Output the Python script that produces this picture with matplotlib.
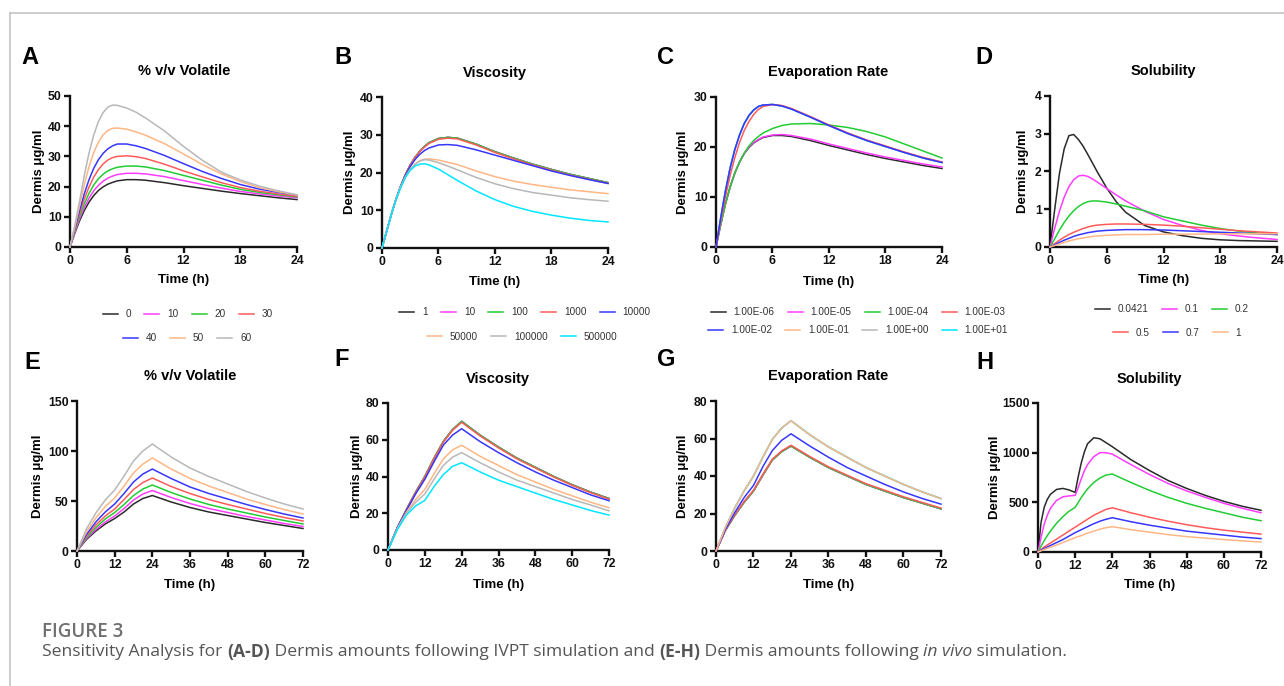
import matplotlib
matplotlib.use("Agg")
import matplotlib.pyplot as plt
from matplotlib.lines import Line2D

plt.rcParams['font.family'] = ['Liberation Sans', 'DejaVu Sans']

W, H = 1284, 686

# series colours (same order in every panel)
black = '#2a2a2a'
magenta = '#ff3cff'
green = '#22cc33'
red = '#ff5a5a'
blue = '#3636ff'
orange = '#ffb685'
gray = '#b8b8b8'
cyan = '#00e6ff'
colors8 = [black, magenta, green, red, blue, orange, gray, cyan]

# ---- IVPT simulation (A-D), 0-24 h ----
t_ivpt = [0, 0.5, 1, 1.5, 2, 2.5, 3, 3.5, 4, 4.5, 5, 6, 7, 8, 10, 12, 14, 16, 18, 20, 22, 24]

vol_labels = ['0', '10', '20', '30', '40', '50', '60']
vol_0 = [0, 4.5, 8.6, 12, 14.8, 17, 18.7, 19.9, 20.8, 21.4, 21.9, 22.3, 22.3, 22.1, 21.3, 20.3, 19.4, 18.5, 17.7, 17.0, 16.3, 15.7]
vol_10 = [0, 4.8, 9.3, 13, 16.1, 18.6, 20.4, 21.8, 22.8, 23.5, 24.0, 24.4, 24.4, 24.2, 23.3, 22.0, 20.7, 19.5, 18.4, 17.6, 16.9, 16.3]
vol_20 = [0, 5.2, 10, 14.2, 17.7, 20.5, 22.6, 24.1, 25.2, 25.9, 26.4, 26.8, 26.8, 26.5, 25.3, 23.7, 22.1, 20.5, 19.1, 18.1, 17.3, 16.6]
vol_30 = [0, 5.6, 11, 15.8, 19.8, 23.1, 25.6, 27.5, 28.8, 29.6, 30.0, 30.2, 29.9, 29.3, 27.4, 25.2, 23.2, 21.3, 19.7, 18.5, 17.6, 16.8]
vol_40 = [0, 6, 12, 17.5, 22.2, 26, 28.9, 31, 32.5, 33.5, 34.1, 34.1, 33.5, 32.6, 30.3, 27.6, 25.0, 22.7, 20.7, 19.2, 18.1, 17.2]
vol_50 = [0, 6.5, 13.5, 20.5, 26.5, 31.2, 34.7, 37.1, 38.6, 39.3, 39.4, 39.0, 38.1, 37.0, 34.2, 30.8, 27.3, 24.2, 21.7, 19.7, 18.3, 17.2]
vol_60 = [0, 7, 15, 23.5, 31, 37, 41.5, 44.5, 46.3, 47, 46.9, 46, 44.6, 42.7, 38.4, 33.3, 28.7, 24.8, 22.2, 20.2, 18.6, 17.3]

visc_labels = ['1', '10', '100', '1000', '10000', '50000', '100000', '500000']
visc_low = [0, 4.5, 9, 13, 16.5, 19.5, 22, 24, 25.6, 26.9, 27.9, 29.0, 29.3, 29.1, 27.5, 25.5, 23.8, 22.2, 20.8, 19.5, 18.4, 17.3]
visc_1000 = [0, 4.5, 9, 13, 16.5, 19.5, 21.9, 23.9, 25.5, 26.7, 27.7, 28.8, 29.1, 28.9, 27.3, 25.3, 23.6, 22.0, 20.6, 19.3, 18.2, 17.1]
visc_10000 = [0, 4.5, 9, 13, 16.4, 19.3, 21.6, 23.4, 24.8, 25.8, 26.5, 27.3, 27.4, 27.2, 26.0, 24.6, 23.2, 21.8, 20.4, 19.2, 18.1, 17.1]
visc_50000 = [0, 4.5, 9, 13, 16.3, 18.9, 20.8, 22.2, 23.1, 23.5, 23.6, 23.3, 22.7, 22.1, 20.4, 18.9, 17.7, 16.8, 16.1, 15.4, 14.9, 14.4]
visc_100000 = [0, 4.5, 9, 13, 16.3, 18.9, 20.8, 22.2, 23.0, 23.4, 23.3, 22.6, 21.7, 20.7, 18.7, 17.0, 15.7, 14.7, 14.0, 13.3, 12.8, 12.4]
visc_500000 = [0, 4.5, 9, 12.9, 16.1, 18.8, 20.6, 21.7, 22.2, 22.3, 22.0, 20.9, 19.4, 17.9, 15.1, 12.8, 11.0, 9.7, 8.7, 7.9, 7.3, 6.9]

evap_labels = ['1.00E-06', '1.00E-05', '1.00E-04', '1.00E-03',
               '1.00E-02', '1.00E-01', '1.00E+00', '1.00E+01']
evap_1e6 = [0, 4.5, 8.6, 12, 14.8, 17, 18.7, 19.9, 20.8, 21.4, 21.9, 22.3, 22.3, 22.1, 21.3, 20.3, 19.4, 18.5, 17.7, 17.0, 16.3, 15.7]
evap_1e5 = [0, 4.5, 8.6, 12, 14.8, 17, 18.7, 20.0, 20.9, 21.5, 22.0, 22.4, 22.5, 22.3, 21.6, 20.6, 19.7, 18.8, 18.0, 17.3, 16.6, 16.0]
evap_1e4 = [0, 4.5, 8.6, 12, 14.8, 17, 18.8, 20.2, 21.3, 22.1, 22.8, 23.7, 24.3, 24.6, 24.7, 24.4, 23.9, 23.1, 22.0, 20.6, 19.2, 17.8]
evap_1e3 = [0, 5.2, 10, 14.3, 17.9, 20.9, 23.3, 25.1, 26.5, 27.5, 28.1, 28.5, 28.3, 27.7, 26.1, 24.4, 22.8, 21.4, 20.2, 19.0, 17.9, 17.0]
evap_fast = [0, 5.8, 11.2, 15.8, 19.5, 22.4, 24.7, 26.3, 27.4, 28.1, 28.4, 28.5, 28.2, 27.6, 26.0, 24.3, 22.7, 21.3, 20.1, 18.9, 17.8, 16.9]

sol_labels = ['0.0421', '0.1', '0.2', '0.5', '0.7', '1']
sol_0421 = [0, 1.0, 1.95, 2.6, 2.95, 2.98, 2.85, 2.67, 2.45, 2.22, 1.99, 1.56, 1.2, 0.92, 0.57, 0.4, 0.3, 0.23, 0.19, 0.17, 0.16, 0.15]
sol_01 = [0, 0.5, 0.95, 1.32, 1.6, 1.78, 1.88, 1.9, 1.87, 1.8, 1.72, 1.55, 1.38, 1.22, 0.95, 0.73, 0.57, 0.44, 0.35, 0.29, 0.24, 0.2]
sol_02 = [0, 0.22, 0.45, 0.65, 0.82, 0.96, 1.07, 1.15, 1.2, 1.22, 1.22, 1.19, 1.14, 1.08, 0.96, 0.8, 0.69, 0.58, 0.49, 0.42, 0.37, 0.33]
sol_05 = [0, 0.09, 0.18, 0.26, 0.33, 0.39, 0.44, 0.49, 0.53, 0.56, 0.58, 0.6, 0.61, 0.61, 0.6, 0.58, 0.55, 0.51, 0.47, 0.43, 0.4, 0.37]
sol_07 = [0, 0.06, 0.12, 0.18, 0.23, 0.28, 0.32, 0.35, 0.38, 0.4, 0.42, 0.44, 0.45, 0.46, 0.46, 0.45, 0.43, 0.41, 0.39, 0.37, 0.35, 0.33]
sol_1 = [0, 0.04, 0.08, 0.12, 0.16, 0.19, 0.22, 0.24, 0.26, 0.28, 0.29, 0.31, 0.32, 0.33, 0.33, 0.34, 0.34, 0.34, 0.35, 0.35, 0.35, 0.35]

# ---- in vivo simulation (E-H), 0-72 h ----
t_vivo = [0, 3, 6, 9, 12, 15, 18, 21, 24, 30, 36, 42, 48, 54, 60, 66, 72]

vivo_vol_0 = [0, 11.5, 20, 27, 32.5, 39, 47, 52.5, 55.5, 49, 43.5, 39, 35.5, 32, 28.5, 25.5, 22.5]
vivo_vol_10 = [0, 12.5, 21.5, 29, 35, 42.5, 51, 57, 60.5, 53.5, 47.5, 42.5, 38.5, 34.5, 31, 27.5, 24.5]
vivo_vol_20 = [0, 13.5, 23.5, 32, 38.5, 46.5, 55.5, 62, 66, 58.5, 52, 46.5, 42, 38, 34, 30.5, 27]
vivo_vol_30 = [0, 15, 26, 35, 42, 51.5, 61.5, 68.5, 73, 64.5, 57.5, 51.5, 46.5, 42, 37.5, 33.5, 30]
vivo_vol_40 = [0, 16.5, 29, 39, 47, 57.5, 69, 77, 82, 72.5, 64, 57.5, 52, 46.5, 41.5, 37, 33]
vivo_vol_50 = [0, 19, 33, 44.5, 53, 65, 78, 87, 93, 82, 72.5, 65, 58.5, 52, 46.5, 41.5, 37]
vivo_vol_60 = [0, 22, 38, 51, 61, 75, 90, 100, 107, 94, 83, 74.5, 67, 59.5, 53, 47, 42]

vivo_visc_low = [0, 12, 22, 31.5, 40, 50, 59, 65.5, 70, 62.5, 56, 50, 45, 40, 35.5, 31.5, 28]
vivo_visc_1000 = [0, 11.9, 21.8, 31.2, 39.6, 49.6, 58.6, 65.1, 69.5, 62.1, 55.6, 49.6, 44.6, 39.7, 35.2, 31.2, 27.7]
vivo_visc_10000 = [0, 12, 21.5, 30.5, 38.5, 48, 57, 62.5, 66, 59, 53, 47.5, 42.5, 38, 34, 30, 26.8]
vivo_visc_50000 = [0, 11.5, 20.5, 27.5, 33, 41.5, 49.5, 54.5, 57, 51, 46, 41, 37, 33, 29.5, 26, 23]
vivo_visc_100000 = [0, 11.5, 20, 26, 30.5, 38.5, 46, 50.5, 53, 47.5, 42.5, 38, 34.5, 31, 27.5, 24.5, 21.3]
vivo_visc_500000 = [0, 11, 19, 24, 27, 34.5, 41, 45.5, 47.5, 42.5, 38, 34.5, 31, 27.5, 24.5, 21.5, 19]

vivo_evap_slow = [0, 11, 19, 26, 32, 40.5, 48.5, 53, 56, 50, 44.5, 40, 35.5, 32, 28.5, 25.5, 22.5]
vivo_evap_1e3 = [0, 11.2, 19.3, 26.4, 32.4, 40.9, 48.9, 53.4, 56.4, 50.4, 44.9, 40.4, 35.9, 32.4, 28.9, 25.9, 22.9]
vivo_evap_1e2 = [0, 11.5, 20.5, 28.5, 35, 45, 53.5, 59, 62.5, 56, 50, 44.5, 40, 35.5, 31.5, 28, 25]
vivo_evap_fast = [0, 12.5, 23, 32, 40, 50, 59.5, 65.5, 69.5, 62, 55.5, 50, 44.5, 40, 35.5, 31.5, 28]

t_vivo_sol = [0, 1, 2, 3, 4, 6, 8, 10, 12, 13, 14, 15, 16, 18, 20, 22, 24, 30, 36, 42, 48, 54, 60, 66, 72]
vivo_sol_0421 = [0, 300, 450, 530, 580, 630, 640, 625, 600, 760, 900, 1010, 1090, 1150, 1140, 1100, 1060, 930, 820, 720, 640, 570, 510, 460, 420]
vivo_sol_01 = [0, 150, 280, 370, 440, 520, 555, 565, 570, 650, 740, 820, 880, 960, 1000, 1000, 985, 880, 780, 690, 615, 550, 490, 440, 395]
vivo_sol_02 = [0, 60, 115, 165, 210, 290, 355, 410, 450, 500, 550, 595, 635, 700, 745, 775, 785, 700, 620, 550, 490, 440, 395, 350, 315]
vivo_sol_05 = [0, 25, 50, 70, 90, 130, 170, 210, 250, 270, 290, 310, 330, 370, 400, 430, 445, 395, 350, 310, 275, 245, 220, 200, 180]
vivo_sol_07 = [0, 18, 35, 50, 65, 95, 125, 160, 195, 210, 225, 240, 255, 285, 310, 330, 345, 305, 270, 240, 210, 190, 170, 150, 135]
vivo_sol_1 = [0, 12, 25, 37, 48, 70, 95, 120, 145, 155, 165, 178, 190, 210, 230, 245, 255, 225, 200, 175, 155, 140, 125, 112, 100]

top_ticks = [0, 6, 12, 18, 24]
bot_ticks = [0, 12, 24, 36, 48, 60, 72]

fig = plt.figure(figsize=(W / 100, H / 100), dpi=100)
fig.patch.set_facecolor('white')

# thin frame round the figure block
fig.add_artist(Line2D([9.5 / W, 1], [1 - 12.5 / H, 1 - 12.5 / H], color='#c4c4c4', lw=1.2))
fig.add_artist(Line2D([9.5 / W, 9.5 / W], [1 - 12.5 / H, 0], color='#c4c4c4', lw=1.2))


def draw_panel(p):
    l, r, top, b = p['box']
    ax = fig.add_axes([l / W, 1 - b / H, (r - l) / W, (b - top) / H])
    handles = []
    for i, y in enumerate(p['series']):
        z = 1 if i in p['below'] else 2 + i
        ln, = ax.plot(p['t'], y, color=colors8[i], lw=1.1, zorder=z, clip_on=False,
                      solid_joinstyle='round')
        handles.append(ln)
    ax.set_xlim(0, p['xmax'])
    ax.set_ylim(0, p['ymax'])
    ax.set_xticks(p['xticks'])
    ax.set_yticks(p['yticks'])
    for s in ['top', 'right']:
        ax.spines[s].set_visible(False)
    for s in ['left', 'bottom']:
        ax.spines[s].set_linewidth(1.7)
        ax.spines[s].set_color('#111111')
    ax.tick_params(direction='out', length=4, width=1.7, labelsize=8.8, pad=2,
                   colors='#111111')
    for lab in ax.get_xticklabels() + ax.get_yticklabels():
        lab.set_fontweight('bold')

    lx, ly = p['letter_xy']
    fig.text(lx / W, 1 - ly / H, p['letter'], fontsize=17, fontweight='bold',
             va='center', ha='left')
    tx, ty = p['title_xy']
    fig.text(tx / W, 1 - ty / H, p['title'], fontsize=10.5, fontweight='bold',
             va='center', ha='center')
    fig.text(p['ylab_x'] / W, 1 - (top + b) / 2 / H, 'Dermis μg/ml', rotation=90,
             fontsize=9.5, fontweight='bold', va='center', ha='center')
    fig.text((l + r) / 2 / W, 1 - p['xlab_y'] / H, 'Time (h)', fontsize=9.5,
             fontweight='bold', va='center', ha='center')

    # legend split into centred rows underneath the IVPT panels
    start = 0
    for n, cx, cy in p['rows']:
        fig.legend(handles[start:start + n], p['labels'][start:start + n],
                   loc='center', bbox_to_anchor=(cx / W, 1 - cy / H), ncol=n,
                   frameon=False, fontsize=7.2, handlelength=1.5, handletextpad=0.8,
                   columnspacing=1.3, labelcolor='#333333', borderpad=0)
        start += n
    return ax


panels = [
    dict(box=(70, 297, 96, 247), letter='A', letter_xy=(21, 57), title='% v/v Volatile',
         title_xy=(184, 71), t=t_ivpt,
         series=[vol_0, vol_10, vol_20, vol_30, vol_40, vol_50, vol_60],
         labels=vol_labels, below=[], xmax=24, xticks=top_ticks, ymax=50,
         yticks=[0, 10, 20, 30, 40, 50], ylab_x=39, xlab_y=280,
         rows=[(4, 188, 314), (3, 187, 338)]),
    dict(box=(382, 608, 97, 248), letter='B', letter_xy=(334, 57), title='Viscosity',
         title_xy=(495, 73), t=t_ivpt,
         series=[visc_low, visc_low, visc_low, visc_1000, visc_10000, visc_50000,
                 visc_100000, visc_500000],
         labels=visc_labels, below=[], xmax=24, xticks=top_ticks, ymax=40,
         yticks=[0, 10, 20, 30, 40], ylab_x=350, xlab_y=282,
         rows=[(5, 525, 312), (3, 522, 337)]),
    dict(box=(716, 942, 97, 247), letter='C', letter_xy=(657, 57), title='Evaporation Rate',
         title_xy=(828, 72), t=t_ivpt,
         series=[evap_1e6, evap_1e5, evap_1e4, evap_1e3, evap_fast, evap_fast,
                 evap_fast, evap_fast],
         labels=evap_labels, below=[5, 6, 7], xmax=24, xticks=top_ticks, ymax=30,
         yticks=[0, 10, 20, 30], ylab_x=683, xlab_y=282,
         rows=[(4, 858, 312), (4, 858, 330)]),
    dict(box=(1050, 1277, 96, 247), letter='D', letter_xy=(975, 57), title='Solubility',
         title_xy=(1163, 71), t=t_ivpt,
         series=[sol_0421, sol_01, sol_02, sol_05, sol_07, sol_1],
         labels=sol_labels, below=[], xmax=24, xticks=top_ticks, ymax=4,
         yticks=[0, 1, 2, 3, 4], ylab_x=1023, xlab_y=280,
         rows=[(3, 1172, 309), (3, 1177, 333)]),
    dict(box=(77, 303, 401, 551), letter='E', letter_xy=(24, 362), title='% v/v Volatile',
         title_xy=(190, 376), t=t_vivo,
         series=[vivo_vol_0, vivo_vol_10, vivo_vol_20, vivo_vol_30, vivo_vol_40,
                 vivo_vol_50, vivo_vol_60],
         labels=vol_labels, below=[], xmax=72, xticks=bot_ticks, ymax=150,
         yticks=[0, 50, 100, 150], ylab_x=38, xlab_y=585, rows=[]),
    dict(box=(388, 609, 403, 550), letter='F', letter_xy=(334, 360), title='Viscosity',
         title_xy=(498, 379), t=t_vivo,
         series=[vivo_visc_low, vivo_visc_low, vivo_visc_low, vivo_visc_1000,
                 vivo_visc_10000, vivo_visc_50000, vivo_visc_100000, vivo_visc_500000],
         labels=visc_labels, below=[], xmax=72, xticks=bot_ticks, ymax=80,
         yticks=[0, 20, 40, 60, 80], ylab_x=357, xlab_y=585, rows=[]),
    dict(box=(716, 941, 401, 551), letter='G', letter_xy=(657, 360), title='Evaporation Rate',
         title_xy=(828, 376), t=t_vivo,
         series=[vivo_evap_slow, vivo_evap_slow, vivo_evap_slow, vivo_evap_1e3,
                 vivo_evap_1e2, vivo_evap_fast, vivo_evap_fast, vivo_evap_fast],
         labels=evap_labels, below=[6, 7], xmax=72, xticks=bot_ticks, ymax=80,
         yticks=[0, 20, 40, 60, 80], ylab_x=683, xlab_y=585, rows=[]),
    dict(box=(1038, 1261, 403, 552), letter='H', letter_xy=(976, 362), title='Solubility',
         title_xy=(1149, 379), t=t_vivo_sol,
         series=[vivo_sol_0421, vivo_sol_01, vivo_sol_02, vivo_sol_05, vivo_sol_07,
                 vivo_sol_1],
         labels=sol_labels, below=[], xmax=72, xticks=bot_ticks, ymax=1500,
         yticks=[0, 500, 1000, 1500], ylab_x=995, xlab_y=585, rows=[]),
]

for p in panels:
    draw_panel(p)

# caption
fig.text(42 / W, 1 - 632 / H, 'FIGURE 3', fontsize=13.5, color='#707070',
         family=['Open Sans', 'DejaVu Sans'], fontweight='semibold', va='center')

pieces = [('Sensitivity Analysis for ', 'normal', 'normal'),
          ('(A-D)', 'bold', 'normal'),
          (' Dermis amounts following IVPT simulation and ', 'normal', 'normal'),
          ('(E-H)', 'bold', 'normal'),
          (' Dermis amounts following ', 'normal', 'normal'),
          ('in vivo', 'normal', 'italic'),
          (' simulation.', 'normal', 'normal')]
renderer = fig.canvas.get_renderer()
x = 42
for txt, wt, st in pieces:
    tt = fig.text(x / W, 1 - 652 / H, txt, fontsize=12.6, color='#555555',
                  family=['Open Sans', 'DejaVu Sans'], fontweight=wt, style=st,
                  va='center', ha='left')
    x += tt.get_window_extent(renderer).width

fig.savefig('out.png', dpi=100, facecolor='white')
